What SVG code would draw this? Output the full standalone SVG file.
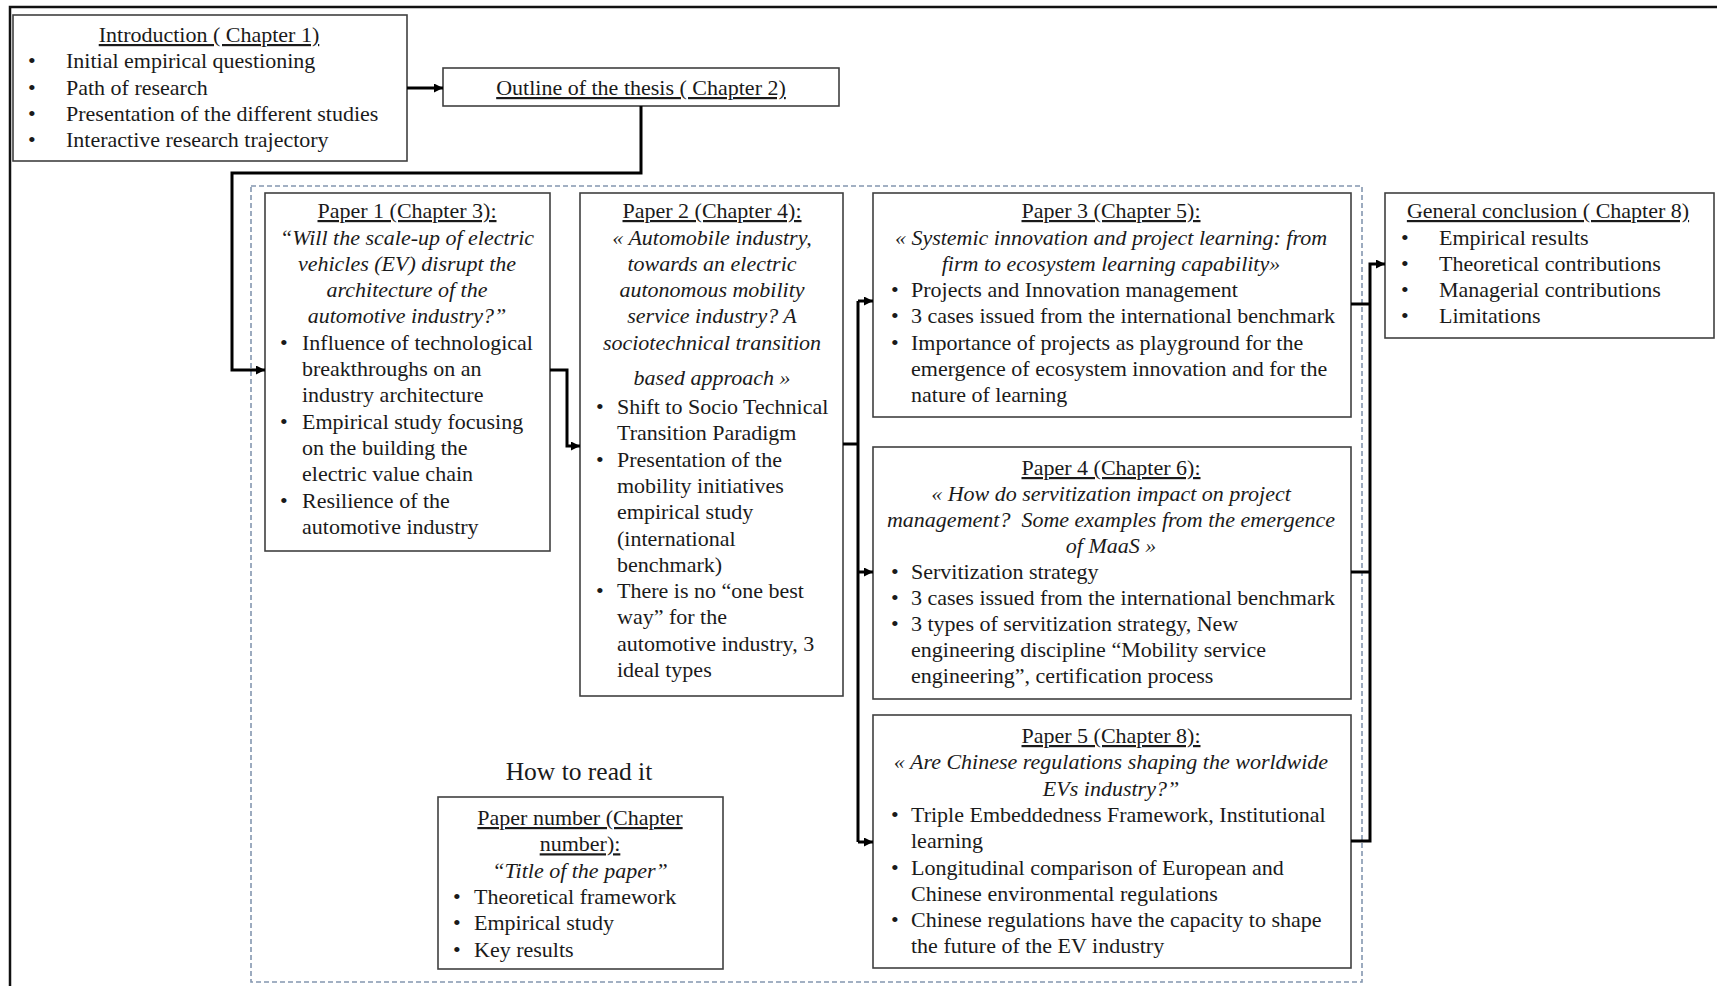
<svg xmlns="http://www.w3.org/2000/svg" width="1717" height="986" viewBox="0 0 1717 986">
<style>
text{font-family:"Liberation Serif","Times New Roman",serif;font-size:22px;fill:#1a1a1a}
.c{text-anchor:middle}
.u{text-decoration:underline}
.i{font-style:italic}
.box{fill:#fff;stroke:#404040;stroke-width:1.6}
.con{fill:none;stroke:#000;stroke-width:3}
</style>
<defs>
<marker id="ah" viewBox="0 0 10 10" refX="10" refY="5" markerWidth="10" markerHeight="9" markerUnits="userSpaceOnUse" orient="auto">
<path d="M0,0 L10,5 L0,10 z" fill="#000"/>
</marker>
</defs>
<rect width="1717" height="986" fill="#fff"/>
<path d="M10,986 V7 H1717" fill="none" stroke="#111" stroke-width="2.5"/>
<rect id="container" x="251" y="186" width="1111" height="796" fill="none" stroke="#8497b0" stroke-width="1.6" stroke-dasharray="5,3"/>

<g id="intro">
<rect class="box" x="13" y="15" width="394" height="146"/>
<text class="c u" x="209" y="42">Introduction ( Chapter 1)</text>
<text x="28" y="68">•</text><text x="66" y="68">Initial empirical questioning</text>
<text x="28" y="94.5">•</text><text x="66" y="94.5">Path of research</text>
<text x="28" y="121">•</text><text x="66" y="121">Presentation of the different studies</text>
<text x="28" y="147">•</text><text x="66" y="147">Interactive research trajectory</text>
</g>

<g id="outline">
<rect class="box" x="443" y="68" width="396" height="38"/>
<text class="c u" x="641" y="95">Outline of the thesis ( Chapter 2)</text>
</g>

<g id="paper1">
<rect class="box" x="265" y="193" width="285" height="358"/>
<text class="c u" x="407" y="218">Paper 1 (Chapter 3):</text>
<text class="c i" x="407" y="244.5">“Will the scale-up of electric</text>
<text class="c i" x="407" y="271">vehicles (EV) disrupt the</text>
<text class="c i" x="407" y="297">architecture of the</text>
<text class="c i" x="407" y="323">automotive industry?”</text>
<text x="280" y="350">•</text><text x="302" y="350">Influence of technological</text>
<text x="302" y="376">breakthroughs on an</text>
<text x="302" y="402">industry architecture</text>
<text x="280" y="429">•</text><text x="302" y="429">Empirical study focusing</text>
<text x="302" y="455">on the building the</text>
<text x="302" y="481">electric value chain</text>
<text x="280" y="507.5">•</text><text x="302" y="507.5">Resilience of the</text>
<text x="302" y="534">automotive industry</text>
</g>

<g id="paper2">
<rect class="box" x="580" y="193" width="263" height="503"/>
<text class="c u" x="712" y="218">Paper 2 (Chapter 4):</text>
<text class="c i" x="712" y="244.5">« Automobile industry,</text>
<text class="c i" x="712" y="271">towards an electric</text>
<text class="c i" x="712" y="297">autonomous mobility</text>
<text class="c i" x="712" y="323">service industry? A</text>
<text class="c i" x="712" y="349.5">sociotechnical transition</text>
<text class="c i" x="712" y="385">based approach »</text>
<text x="596" y="414">•</text><text x="617" y="414">Shift to Socio Technical</text>
<text x="617" y="440.3">Transition Paradigm</text>
<text x="596" y="466.6">•</text><text x="617" y="466.6">Presentation of the</text>
<text x="617" y="492.9">mobility initiatives</text>
<text x="617" y="519.2">empirical study</text>
<text x="617" y="545.5">(international</text>
<text x="617" y="571.8">benchmark)</text>
<text x="596" y="598.1">•</text><text x="617" y="598.1">There is no “one best</text>
<text x="617" y="624.4">way” for the</text>
<text x="617" y="650.7">automotive industry, 3</text>
<text x="617" y="677">ideal types</text>
</g>

<g id="paper3">
<rect class="box" x="873" y="193" width="478" height="224"/>
<text class="c u" x="1111" y="218">Paper 3 (Chapter 5):</text>
<text class="c i" x="1111" y="244.5">« Systemic innovation and project learning: from</text>
<text class="c i" x="1111" y="271">firm to ecosystem learning capability»</text>
<text x="891" y="297">•</text><text x="911" y="297">Projects and Innovation management</text>
<text x="891" y="323">•</text><text x="911" y="323">3 cases issued from the international benchmark</text>
<text x="891" y="350">•</text><text x="911" y="350">Importance of projects as playground for the</text>
<text x="911" y="376">emergence of ecosystem innovation and for the</text>
<text x="911" y="402">nature of learning</text>
</g>

<g id="paper4">
<rect class="box" x="873" y="447" width="478" height="252"/>
<text class="c u" x="1111" y="475">Paper 4 (Chapter 6):</text>
<text class="c i" x="1111" y="501">« How do servitization impact on project</text>
<text class="c i" x="1111" y="527" xml:space="preserve">management?  Some examples from the emergence</text>
<text class="c i" x="1111" y="553">of MaaS »</text>
<text x="891" y="579">•</text><text x="911" y="579">Servitization strategy</text>
<text x="891" y="605">•</text><text x="911" y="605">3 cases issued from the international benchmark</text>
<text x="891" y="631">•</text><text x="911" y="631">3 types of servitization strategy, New</text>
<text x="911" y="657">engineering discipline “Mobility service</text>
<text x="911" y="683">engineering”, certification process</text>
</g>

<g id="paper5">
<rect class="box" x="873" y="715" width="478" height="253"/>
<text class="c u" x="1111" y="743">Paper 5 (Chapter 8):</text>
<text class="c i" x="1111" y="769.3">« Are Chinese regulations shaping the worldwide</text>
<text class="c i" x="1111" y="795.6">EVs industry?”</text>
<text x="891" y="821.9">•</text><text x="911" y="821.9">Triple Embeddedness Framework, Institutional</text>
<text x="911" y="848.2">learning</text>
<text x="891" y="874.5">•</text><text x="911" y="874.5">Longitudinal comparison of European and</text>
<text x="911" y="900.8">Chinese environmental regulations</text>
<text x="891" y="927.1">•</text><text x="911" y="927.1">Chinese regulations have the capacity to shape</text>
<text x="911" y="953.4">the future of the EV industry</text>
</g>

<g id="legend">
<text class="c" x="579" y="780" style="font-size:25.5px">How to read it</text>
<rect class="box" x="438" y="797" width="285" height="172"/>
<text class="c u" x="580" y="825">Paper number (Chapter</text>
<text class="c u" x="580" y="851.3">number):</text>
<text class="c i" x="580" y="877.6">“Title of the paper”</text>
<text x="453" y="903.9">•</text><text x="474" y="903.9">Theoretical framework</text>
<text x="453" y="930.2">•</text><text x="474" y="930.2">Empirical study</text>
<text x="453" y="956.5">•</text><text x="474" y="956.5">Key results</text>
</g>

<g id="conclusion">
<rect class="box" x="1385" y="193" width="329" height="145"/>
<text class="c u" x="1548" y="218">General conclusion ( Chapter 8)</text>
<text x="1401" y="244.5">•</text><text x="1439" y="244.5">Empirical results</text>
<text x="1401" y="271">•</text><text x="1439" y="271">Theoretical contributions</text>
<text x="1401" y="297">•</text><text x="1439" y="297">Managerial contributions</text>
<text x="1401" y="323">•</text><text x="1439" y="323">Limitations</text>
</g>

<g id="connectors">
<path class="con" d="M407,88 H443" marker-end="url(#ah)"/>
<path class="con" d="M641,106 V173 H232 V370 H265" marker-end="url(#ah)"/>
<path class="con" d="M550,370 H567 V446 H580" marker-end="url(#ah)"/>
<path class="con" d="M843,444 H858"/>
<path class="con" d="M858,301 V842"/>
<path class="con" d="M858,301 H873" marker-end="url(#ah)"/>
<path class="con" d="M858,572 H873" marker-end="url(#ah)"/>
<path class="con" d="M858,842 H873" marker-end="url(#ah)"/>
<path class="con" d="M1351,304 H1370"/>
<path class="con" d="M1351,572 H1370"/>
<path class="con" d="M1351,841 H1370 V264 H1385" marker-end="url(#ah)"/>
</g>
</svg>
